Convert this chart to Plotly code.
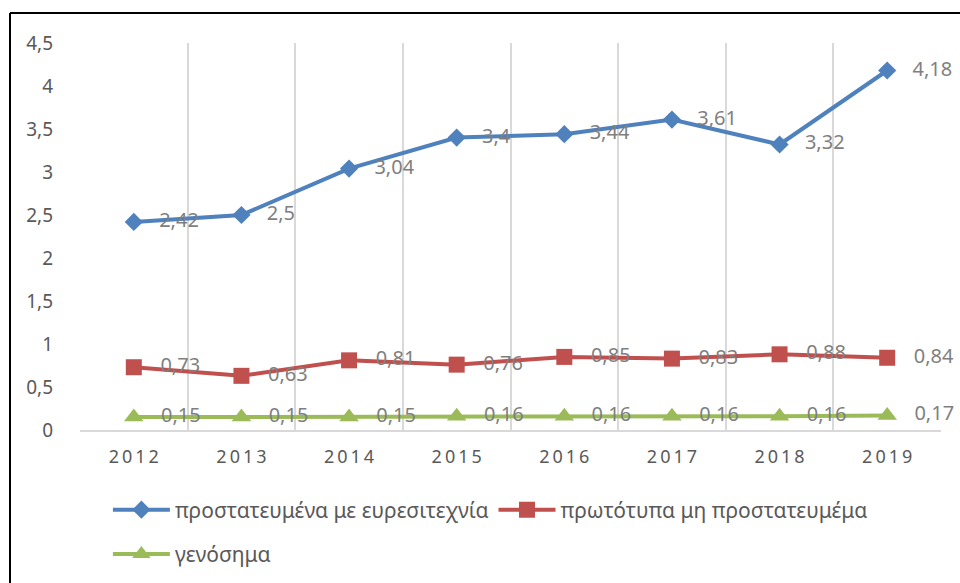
import plotly.graph_objects as go

years = ["2012", "2013", "2014", "2015", "2016", "2017", "2018", "2019"]
year_labels = ["2\u20090\u20091\u20092", "2\u20090\u20091\u20093", "2\u20090\u20091\u20094", "2\u20090\u20091\u20095",
               "2\u20090\u20091\u20096", "2\u20090\u20091\u20097", "2\u20090\u20091\u20098", "2\u20090\u20091\u20099"]
patented = [2.42, 2.5, 3.04, 3.4, 3.44, 3.61, 3.32, 4.18]
originals = [0.73, 0.63, 0.81, 0.76, 0.85, 0.83, 0.88, 0.84]
generics = [0.15, 0.15, 0.15, 0.16, 0.16, 0.16, 0.16, 0.17]
names = ["προστατευμένα με ευρεσιτεχνία", "πρωτότυπα μη προστατευμέμα", "γενόσημα"]
colors = ["#4F81BD", "#C0504D", "#9BBB59"]
symbols = ["diamond", "square", "triangle-up"]
msizes = [14, 16, 17]
series = [patented, originals, generics]
legends = ["legend", "legend", "legend2"]
yticks = [0, 0.5, 1, 1.5, 2, 2.5, 3, 3.5, 4, 4.5]

FONT = "Noto Sans"
PAD = "\u00a0\u00a0\u00a0"
fig = go.Figure()
for vals, nm, c, s, ms, lg in zip(series, names, colors, symbols, msizes, legends):
    fig.add_trace(go.Scatter(
        x=years, y=vals, name=nm, mode="lines+markers+text",
        line=dict(color=c, width=4),
        marker=dict(symbol=s, size=ms, color=c),
        text=[PAD + str(v).replace(".", ",") for v in vals],
        textposition="middle right",
        textfont=dict(family=FONT, size=20, color="#7F7F7F"),
        cliponaxis=False,
        legend=lg,
    ))

fig.update_layout(
    width=960, height=583,
    paper_bgcolor="white", plot_bgcolor="white",
    margin=dict(l=80, r=19, t=43, b=153, autoexpand=False),
    separators=",.",
    font=dict(family=FONT, color="#595959"),
    showlegend=True,
    legend=dict(orientation="h", xref="container", yref="container",
                x=0.1124, y=0.1252, xanchor="left", yanchor="middle",
                font=dict(family=FONT, size=21, color="#595959"),
                itemwidth=57, tracegroupgap=0, bgcolor="rgba(0,0,0,0)"),
    legend2=dict(orientation="h", xref="container", yref="container",
                 x=0.1124, y=0.0490, xanchor="left", yanchor="middle",
                 font=dict(family=FONT, size=21, color="#595959"),
                 itemwidth=57, bgcolor="rgba(0,0,0,0)"),
    xaxis=dict(
        type="category", range=[-0.5, 7.5], tickson="boundaries",
        tickmode="array", tickvals=years, ticktext=year_labels,
        showgrid=True, gridcolor="#D9D9D9", gridwidth=1.5,
        showline=True, linecolor="#D9D9D9", linewidth=1.5,
        ticks="", ticklabelstandoff=10,
        tickfont=dict(family=FONT, size=18, color="#595959"),
        zeroline=False, fixedrange=True, automargin=False,
    ),
    yaxis=dict(
        range=[0, 4.5], tickmode="array", tickvals=yticks,
        showgrid=False, showline=False, zeroline=False, ticks="",
        ticklabelstandoff=26,
        tickfont=dict(family=FONT, size=19, color="#595959"),
        fixedrange=True, automargin=False,
    ),
    shapes=[
        dict(type="line", xref="paper", yref="paper", x0=-0.0813, x1=1.03,
             y0=1.0775, y1=1.0775, line=dict(color="black", width=2)),
        dict(type="line", xref="paper", yref="paper", x0=-0.0813, x1=-0.0813,
             y0=1.0775, y1=-0.42, line=dict(color="black", width=2)),
    ],
)

# remove the default 8px page margin so the 960x583 figure fills the window exactly
fig.write_html(
    "out.html",
    config={"displayModeBar": False},
    post_script="document.body.style.margin='0';document.body.style.overflow='hidden';",
)
